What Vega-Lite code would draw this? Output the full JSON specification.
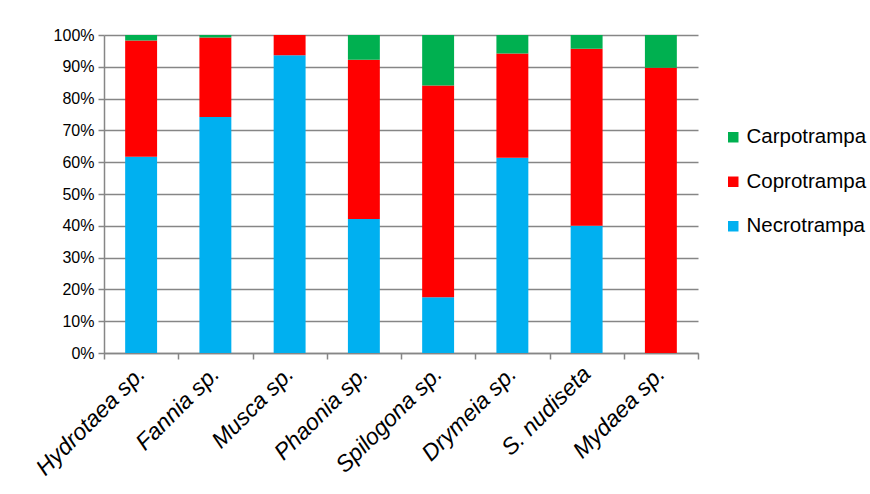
{
  "$schema": "https://vega.github.io/schema/vega-lite/v6.json",
  "width": 594,
  "height": 318,
  "autosize": {"type": "none"},
  "padding": {"left": 104, "top": 35, "right": 172, "bottom": 141},
  "background": "white",
  "config": {
    "view": {"stroke": null},
    "font": "Liberation Sans"
  },
  "data": {
    "values": [
      {"species": "Hydrotaea sp.", "trap": "Necrotrampa", "share": 0.617, "rank": 1},
      {"species": "Hydrotaea sp.", "trap": "Coprotrampa", "share": 0.366, "rank": 2},
      {"species": "Hydrotaea sp.", "trap": "Carpotrampa", "share": 0.017, "rank": 3},
      {"species": "Fannia sp.", "trap": "Necrotrampa", "share": 0.742, "rank": 1},
      {"species": "Fannia sp.", "trap": "Coprotrampa", "share": 0.250, "rank": 2},
      {"species": "Fannia sp.", "trap": "Carpotrampa", "share": 0.008, "rank": 3},
      {"species": "Musca sp.", "trap": "Necrotrampa", "share": 0.936, "rank": 1},
      {"species": "Musca sp.", "trap": "Coprotrampa", "share": 0.064, "rank": 2},
      {"species": "Musca sp.", "trap": "Carpotrampa", "share": 0.0, "rank": 3},
      {"species": "Phaonia sp.", "trap": "Necrotrampa", "share": 0.421, "rank": 1},
      {"species": "Phaonia sp.", "trap": "Coprotrampa", "share": 0.501, "rank": 2},
      {"species": "Phaonia sp.", "trap": "Carpotrampa", "share": 0.078, "rank": 3},
      {"species": "Spilogona sp.", "trap": "Necrotrampa", "share": 0.175, "rank": 1},
      {"species": "Spilogona sp.", "trap": "Coprotrampa", "share": 0.666, "rank": 2},
      {"species": "Spilogona sp.", "trap": "Carpotrampa", "share": 0.159, "rank": 3},
      {"species": "Drymeia sp.", "trap": "Necrotrampa", "share": 0.614, "rank": 1},
      {"species": "Drymeia sp.", "trap": "Coprotrampa", "share": 0.328, "rank": 2},
      {"species": "Drymeia sp.", "trap": "Carpotrampa", "share": 0.058, "rank": 3},
      {"species": "S. nudiseta", "trap": "Necrotrampa", "share": 0.400, "rank": 1},
      {"species": "S. nudiseta", "trap": "Coprotrampa", "share": 0.557, "rank": 2},
      {"species": "S. nudiseta", "trap": "Carpotrampa", "share": 0.043, "rank": 3},
      {"species": "Mydaea sp.", "trap": "Necrotrampa", "share": 0.0, "rank": 1},
      {"species": "Mydaea sp.", "trap": "Coprotrampa", "share": 0.897, "rank": 2},
      {"species": "Mydaea sp.", "trap": "Carpotrampa", "share": 0.103, "rank": 3}
    ]
  },
  "mark": {"type": "bar", "width": {"band": 0.43}},
  "encoding": {
    "x": {
      "field": "species",
      "type": "nominal",
      "sort": null,
      "scale": {"paddingInner": 0, "paddingOuter": 0},
      "axis": {
        "title": null,
        "tickBand": "extent",
        "domainColor": "#868686",
        "domainWidth": 1.5,
        "tickColor": "#868686",
        "tickWidth": 1.5,
        "tickSize": 6,
        "labelAngle": -45,
        "labelAlign": "right",
        "labelBaseline": "middle",
        "labelFont": "Liberation Sans",
        "labelFontStyle": "italic",
        "labelFontSize": 23,
        "labelColor": "#000000",
        "labelPadding": 11,
        "labelOverlap": false
      }
    },
    "y": {
      "field": "share",
      "type": "quantitative",
      "stack": "zero",
      "scale": {"domain": [0, 1], "nice": false},
      "axis": {
        "title": null,
        "format": ".0%",
        "values": [0, 0.1, 0.2, 0.3, 0.4, 0.5, 0.6, 0.7, 0.8, 0.9, 1],
        "grid": true,
        "gridColor": "#868686",
        "gridWidth": 1.5,
        "domainColor": "#868686",
        "domainWidth": 1.5,
        "tickColor": "#868686",
        "tickWidth": 1.5,
        "tickSize": 6,
        "labelFont": "Liberation Sans",
        "labelFontSize": 16,
        "labelColor": "#000000",
        "labelPadding": 4
      }
    },
    "color": {
      "field": "trap",
      "type": "nominal",
      "scale": {
        "domain": ["Carpotrampa", "Coprotrampa", "Necrotrampa"],
        "range": ["#00B050", "#FF0000", "#00B0F0"]
      },
      "legend": {
        "title": null,
        "orient": "none",
        "legendX": 619,
        "legendY": 92,
        "symbolType": "square",
        "symbolSize": 110,
        "symbolStrokeWidth": 0,
        "rowPadding": 23.5,
        "labelFont": "Liberation Sans",
        "labelFontSize": 20.5,
        "labelColor": "#000000",
        "labelOffset": 3
      }
    },
    "order": {"field": "rank", "type": "quantitative", "sort": "ascending"}
  }
}
